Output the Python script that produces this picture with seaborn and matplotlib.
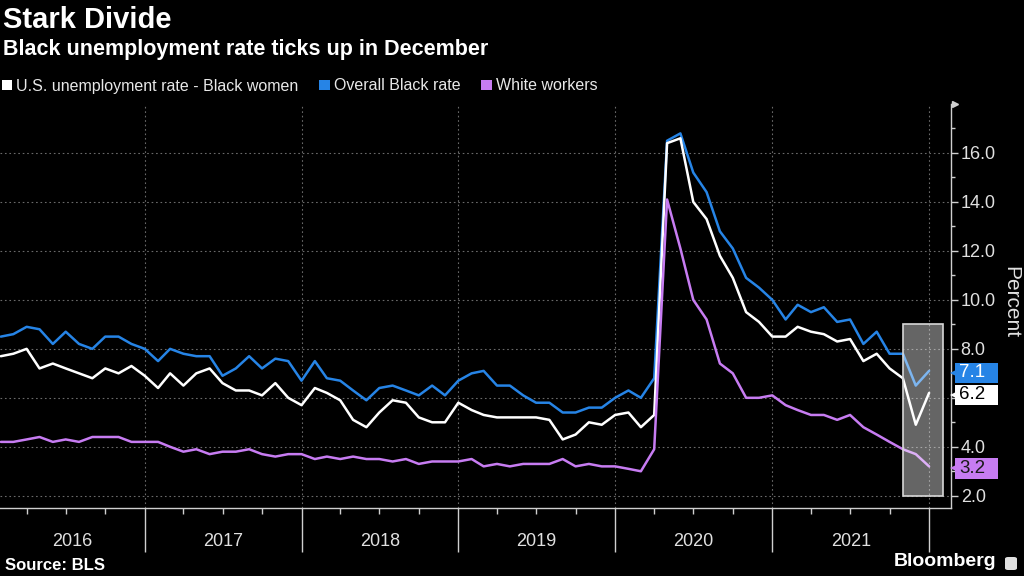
import pandas as pd
import matplotlib.pyplot as plt
import matplotlib.dates as mdates
import matplotlib.transforms as mtransforms
from matplotlib.patches import Patch, Rectangle, FancyBboxPatch
from matplotlib.ticker import FixedLocator, MultipleLocator
import seaborn as sns

# Monthly data, Jan 2016 - Dec 2021
months = pd.date_range('2016-01-31', '2021-12-31', freq='ME')

black_women = [
    7.7, 7.8, 8.0, 7.2, 7.4, 7.2, 7.0, 6.8, 7.2, 7.0, 7.3, 6.9,
    6.4, 7.0, 6.5, 7.0, 7.2, 6.6, 6.3, 6.3, 6.1, 6.6, 6.0, 5.7,
    6.4, 6.2, 5.9, 5.1, 4.8, 5.4, 5.9, 5.8, 5.2, 5.0, 5.0, 5.8,
    5.5, 5.3, 5.2, 5.2, 5.2, 5.2, 5.1, 4.3, 4.5, 5.0, 4.9, 5.3,
    5.4, 4.8, 5.3, 16.4, 16.6, 14.0, 13.3, 11.8, 10.9, 9.5, 9.1, 8.5,
    8.5, 8.9, 8.7, 8.6, 8.3, 8.4, 7.5, 7.8, 7.2, 6.8, 4.9, 6.2,
]
overall_black = [
    8.5, 8.6, 8.9, 8.8, 8.2, 8.7, 8.2, 8.0, 8.5, 8.5, 8.2, 8.0,
    7.5, 8.0, 7.8, 7.7, 7.7, 6.9, 7.2, 7.7, 7.2, 7.6, 7.5, 6.7,
    7.5, 6.8, 6.7, 6.3, 5.9, 6.4, 6.5, 6.3, 6.1, 6.5, 6.1, 6.7,
    7.0, 7.1, 6.5, 6.5, 6.1, 5.8, 5.8, 5.4, 5.4, 5.6, 5.6, 6.0,
    6.3, 6.0, 6.8, 16.5, 16.8, 15.2, 14.4, 12.8, 12.1, 10.9, 10.5, 10.0,
    9.2, 9.8, 9.5, 9.7, 9.1, 9.2, 8.2, 8.7, 7.8, 7.8, 6.5, 7.1,
]
white_workers = [
    4.2, 4.2, 4.3, 4.4, 4.2, 4.3, 4.2, 4.4, 4.4, 4.4, 4.2, 4.2,
    4.2, 4.0, 3.8, 3.9, 3.7, 3.8, 3.8, 3.9, 3.7, 3.6, 3.7, 3.7,
    3.5, 3.6, 3.5, 3.6, 3.5, 3.5, 3.4, 3.5, 3.3, 3.4, 3.4, 3.4,
    3.5, 3.2, 3.3, 3.2, 3.3, 3.3, 3.3, 3.5, 3.2, 3.3, 3.2, 3.2,
    3.1, 3.0, 3.9, 14.1, 12.1, 10.0, 9.2, 7.4, 7.0, 6.0, 6.0, 6.1,
    5.7, 5.5, 5.3, 5.3, 5.1, 5.3, 4.8, 4.5, 4.2, 3.9, 3.7, 3.2,
]

series_names = ['U.S. unemployment rate - Black women', 'Overall Black rate', 'White workers']
colors = {'U.S. unemployment rate - Black women': '#ffffff',
          'Overall Black rate': '#2684e6',
          'White workers': '#c77cf2'}
years = [2016, 2017, 2018, 2019, 2020, 2021]
y_ticks = [2, 4, 6, 8, 10, 12, 14, 16]

df = pd.concat([
    pd.DataFrame({'month': months, 'rate': black_women, 'series': series_names[0]}),
    pd.DataFrame({'month': months, 'rate': overall_black, 'series': series_names[1]}),
    pd.DataFrame({'month': months, 'rate': white_workers, 'series': series_names[2]}),
])

sns.set_style('dark')
plt.rcParams['font.family'] = ['Liberation Sans', 'DejaVu Sans']
plt.rcParams['figure.facecolor'] = 'black'
plt.rcParams['axes.facecolor'] = 'black'

fig = plt.figure(figsize=(10.24, 5.76), dpi=100)
ax = fig.add_axes([0, 1 - 508 / 576, 951 / 1024, (508 - 104) / 576])

sns.lineplot(data=df, x='month', y='rate', hue='series',
             hue_order=[series_names[1], series_names[0], series_names[2]],
             palette=colors, linewidth=1.8, legend=False, ax=ax)

x_left = pd.Timestamp('2016-01-29')
x_right = pd.Timestamp('2022-02-20')
ax.set_xlim(x_left, x_right)
ax.set_ylim(1.5, 18)

# highlight box over the last two months
x0 = mdates.date2num(pd.Timestamp('2021-10-31'))
x1 = mdates.date2num(pd.Timestamp('2022-02-02'))
ax.add_patch(Rectangle((x0, 2.0), x1 - x0, 7.0, facecolor=(1, 1, 1, 0.4),
                       edgecolor='#d8d8d8', linewidth=1.2, zorder=5))

# axes styling
for s in ['left', 'top']:
    ax.spines[s].set_visible(False)
for s in ['right', 'bottom']:
    ax.spines[s].set_visible(True)
    ax.spines[s].set_color('#cfcfcf')
    ax.spines[s].set_linewidth(1.0)

ax.yaxis.tick_right()
ax.yaxis.set_minor_locator(MultipleLocator(1))
ax.set_yticks(y_ticks)
# the 6.0 label sits under the last-value tag in the original
ax.set_yticklabels(['' if t == 6 else f'{t:.1f}' for t in y_ticks])
ax.tick_params(axis='y', which='major', colors='#cfcfcf', labelcolor='#e0e0e0',
               labelsize=13, length=5, width=1, direction='out', pad=2)
ax.tick_params(axis='y', which='minor', colors='#cfcfcf', length=3, width=1, right=True)

year_ends = pd.to_datetime([f'{y}-12-31' for y in years])
quarter_ends = months[2::3]
ax.xaxis.set_major_locator(FixedLocator(mdates.date2num(year_ends)))
ax.xaxis.set_minor_locator(FixedLocator(mdates.date2num(quarter_ends)))
ax.set_xticklabels([])
ax.tick_params(axis='x', which='major', colors='#cfcfcf', length=32, width=1, bottom=True)
ax.tick_params(axis='x', which='minor', colors='#cfcfcf', length=4, width=1, bottom=True)
ax.set_xlabel('')
ax.set_ylabel('')

ax.grid(True, which='major', axis='both', color='#6a6a6a', linestyle=(0, (1.5, 2.5)), linewidth=0.8)

# year labels centred on each year
xtrans = ax.get_xaxis_transform()
for y in years:
    start = max(x_left, pd.Timestamp(f'{y - 1}-12-31'))
    end = pd.Timestamp(f'{y}-12-31')
    mid = start + (end - start) / 2
    ax.text(mid, -0.084, str(y), transform=xtrans, ha='center', va='center',
            color='#e0e0e0', fontsize=13)

# arrow at top of the value axis
ax.plot([1.004], [1.0], marker='>', markersize=5, color='#cfcfcf',
        transform=ax.transAxes, clip_on=False)

# last-value tags
ytrans = mtransforms.blended_transform_factory(ax.transAxes, ax.transData)
tag_w = 43 / 951
tags = [(overall_black[-1], '#2684e6', 'white'),
        (black_women[-1], '#ffffff', 'black'),
        (white_workers[-1], '#c77cf2', '#1a1a1a')]
for val, fc, tc in tags:
    yc = val - 0.08
    ax.add_patch(Rectangle((1.0045, yc - 0.42), tag_w, 0.84, transform=ytrans,
                           facecolor=fc, edgecolor='none', clip_on=False, zorder=6))
    ax.plot([1.0035], [yc], marker='<', markersize=6, color=fc, markeredgewidth=0,
            transform=ytrans, clip_on=False, zorder=6)
    ax.text(1.0085, yc, f'{val:.1f}', transform=ytrans, ha='left', va='center',
            fontsize=13.5, color=tc, zorder=7)

fig.text(1011 / 1024, 1 - 302 / 576, 'Percent', rotation=-90, ha='center', va='center',
         color='#e0e0e0', fontsize=15)

# titles
fig.text(0.003, 1 - 20 / 576, 'Stark Divide', color='white', fontsize=21,
         fontweight='bold', ha='left', va='center')
fig.text(0.003, 1 - 50 / 576, 'Black unemployment rate ticks up in December',
         color='white', fontsize=15.5, fontweight='bold', ha='left', va='center')

handles = [Patch(facecolor=colors[n], edgecolor='none', label=n) for n in series_names]
leg = ax.legend(handles=handles, loc='center left', bbox_to_anchor=(0.002, 1 - 86 / 576),
                bbox_transform=fig.transFigure, ncol=3, frameon=False, fontsize=11.5,
                handlelength=0.65, handleheight=0.65, handletextpad=0.25,
                columnspacing=1.3, borderaxespad=0, borderpad=0)
for t in leg.get_texts():
    t.set_color('#e8e8e8')

fig.text(0.005, 1 - 565 / 576, 'Source: BLS', color='white', fontsize=12,
         fontweight='bold', ha='left', va='center')
fig.text(996 / 1024, 1 - 562 / 576, 'Bloomberg', color='white', fontsize=14,
         fontweight='bold', ha='right', va='center')
fig.patches.append(FancyBboxPatch((1005 / 1024, 1 - 570 / 576), 12 / 1024, 13 / 576,
                                  boxstyle='round,pad=0,rounding_size=0.003',
                                  transform=fig.transFigure, facecolor='#e0e0e0',
                                  edgecolor='none'))

fig.savefig('out.png', dpi=100, facecolor='black')
